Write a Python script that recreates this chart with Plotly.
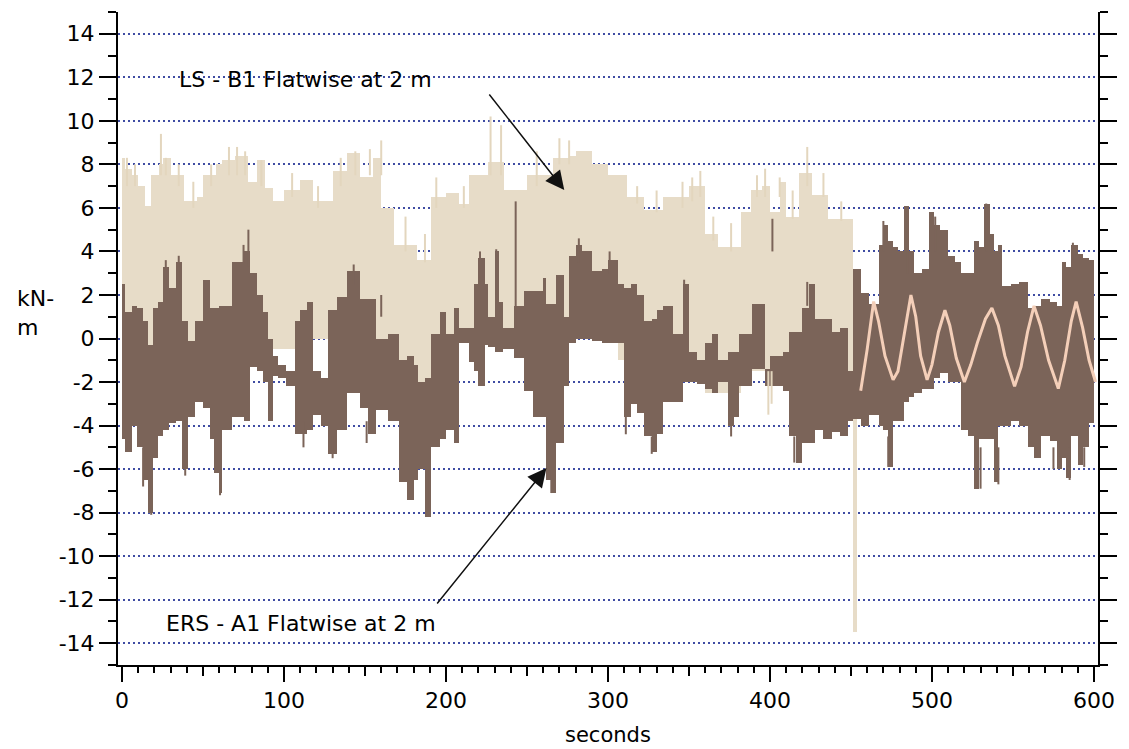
import plotly.graph_objects as go

# ---------------- data ----------------
# ERS - A1 Flatwise at 2 m  (dark trace): segment start time, upper and lower envelope
ers_start = [0, 2, 6, 9, 13, 16, 19, 22, 25, 29, 33, 37, 41, 45, 50, 54, 57, 60, 62, 68,
             75, 79, 83, 87, 90, 93, 96, 101, 107, 110, 114, 118, 123, 127, 133, 139, 147, 152, 157, 164,
             171, 176, 180, 183, 187, 191, 196, 200, 205, 208, 214, 217, 220, 224, 226, 230, 233, 235, 242, 248,
             254, 260, 262, 265, 268, 273, 276, 280, 284, 290, 296, 300, 306, 310, 314, 318, 322, 327, 330, 334,
             340, 346, 350, 355, 360, 364, 368, 374, 378, 381, 389, 397, 400, 404, 408, 412, 416, 420, 424, 428,
             433, 438, 443, 448, 451, 456, 461, 467, 470, 473, 476, 479, 483, 486, 489, 494, 498, 501, 505, 510,
             514, 518, 522, 526, 529, 532, 536, 538, 541, 543, 549, 554, 559, 563, 567, 573, 577, 580, 583, 586,
             590, 593, 597]
ers_hi = [2.5, 1.2, 1.5, 1.4, 0.8, -0.3, 1.4, 1.7, 3.3, 2.3, 3.5, 0.8, -0.1, 0.8, 2.7, 1.4, 1.4, 1.5, 1.5, 3.5,
          4.0, 3.0, 2.0, 1.2, 0.0, -0.8, -1.2, -1.5, 0.8, 1.3, 1.7, -1.5, -1.8, 1.3, 1.9, 3.1, 1.8, 1.8, 0.0, 0.2,
          -1.0, -0.8, -1.2, -2.0, -1.8, 0.2, 1.2, 0.2, 1.4, 0.5, 0.5, 2.5, 3.7, 2.5, 1.0, 4.0, 1.7, 0.5, 1.5, 2.2,
          2.2, 2.8, 1.6, 1.6, 2.9, 1.0, 3.8, 4.3, 4.0, 3.1, 3.2, 3.6, 2.5, 2.3, 2.5, 2.0, 0.8, 0.9, 1.3, 1.5,
          0.2, 2.5, -0.6, -1.0, -0.2, 0.2, -1.0, -0.6, -0.6, 0.2, 1.6, -1.4, -0.8, -0.8, -0.6, 0.3, 0.3, 1.4, 2.5, 0.9,
          0.9, 0.3, 0.5, -1.5, 3.2, 2.1, 1.6, 4.3, 5.2, 4.5, 4.2, 4.0, 6.1, 4.0, 3.0, 3.2, 5.8, 5.2, 5.0, 3.8,
          3.5, 3.0, 3.0, 4.5, 4.2, 6.2, 4.8, 4.0, 4.3, 2.4, 2.5, 2.6, 1.4, 1.5, 1.8, 1.7, 1.5, 3.5, 3.3, 4.3,
          3.9, 3.7, 3.6]
ers_lo = [-4.6, -5.2, -4.0, -5.0, -6.5, -8.0, -5.5, -4.5, -4.2, -3.9, -3.8, -6.0, -3.6, -2.9, -3.2, -4.6, -6.2, -7.1, -4.2, -3.6,
          -3.8, -1.3, -1.5, -2.0, -3.8, -1.7, -1.8, -2.2, -4.4, -4.4, -4.2, -3.5, -4.0, -5.3, -4.2, -2.5, -3.2, -4.4, -3.3, -3.8,
          -6.6, -7.4, -6.5, -6.0, -8.2, -5.0, -4.6, -4.2, -4.8, -0.2, -1.1, -1.5, -2.2, -0.3, -0.4, -0.6, -0.6, -0.5, -0.9, -2.4,
          -3.6, -3.6, -6.5, -7.1, -4.8, -2.2, -0.2, 0.0, 0.0, -0.1, -0.2, -0.2, -0.2, -3.6, -3.0, -3.4, -4.5, -5.2, -4.4, -2.9,
          -2.9, -2.0, -2.0, -2.1, -2.3, -2.5, -2.0, -4.0, -3.6, -2.2, -1.4, -2.2, -2.2, -2.2, -2.4, -4.5, -5.7, -4.8, -4.8, -4.2,
          -4.6, -4.3, -4.5, -3.8, -3.7, -4.0, -3.5, -4.0, -4.2, -5.9, -3.8, -3.8, -2.9, -2.7, -2.5, -2.3, -2.3, -1.8, -1.6, -2.0,
          -2.0, -4.2, -4.5, -6.9, -4.6, -4.6, -4.6, -6.6, -4.0, -4.0, -3.8, -4.0, -5.0, -5.5, -4.5, -4.7, -6.0, -5.5, -6.4, -4.5,
          -5.8, -5.0, -3.9]
ers_end = 600

# thin excursions of the dark trace: time, from, to
ers_spike_t = [27, 35, 75, 78, 143, 160, 221, 231, 243, 282, 301, 347, 401.5, 423, 470, 485, 502, 533.5, 587,
               18, 60.5, 190, 265, 415, 473, 530, 541, 575, 585, 594, 13, 39, 112, 130, 151, 311, 327, 376]
ers_spike_a = [2.5, 2.5, 3.5, 3.3, 2.5, 1.0, 2.8, 2.0, 0.5, 3.5, 3.0, 1.8, 4.0, 1.5, 4.0, 3.0, 4.0, 4.0, 3.5,
               -6.0, -6.0, -6.0, -6.0, -4.5, -4.5, -5.0, -5.0, -5.0, -5.0, -5.0, -5.0, -5.0, -3.8, -4.5, -3.8, -3.0, -4.5, -3.5]
ers_spike_b = [3.6, 3.8, 4.3, 5.0, 3.4, 2.0, 4.0, 4.1, 6.3, 4.6, 4.0, 2.7, 5.5, 2.6, 5.4, 6.0, 5.6, 6.2, 4.4,
               -8.1, -7.2, -8.2, -7.1, -5.7, -5.9, -6.9, -6.7, -6.0, -6.5, -5.9, -6.8, -6.3, -5.0, -5.5, -4.8, -4.4, -5.3, -4.5]

# LS - B1 Flatwise at 2 m  (light trace)
ls_start = [0, 2, 6, 10, 14, 18, 23, 25, 30, 38, 46, 50, 58, 62, 70, 78, 83, 88, 93, 100,
            110, 118, 130, 139, 147, 155, 160, 168, 182, 191, 200, 208, 214, 226, 236, 250, 266, 276, 280, 290,
            300, 306, 312, 322, 334, 350, 360, 368, 382, 388, 395, 400, 404, 406, 410, 418, 426, 436, 440, 451]
ls_hi = [8.3, 7.8, 7.5, 7.0, 6.1, 7.5, 8.0, 8.3, 7.5, 6.3, 6.5, 7.5, 8.0, 8.2, 8.4, 7.2, 8.2, 6.9, 6.3, 6.8,
         7.3, 6.3, 7.7, 8.5, 7.4, 8.3, 6.0, 4.3, 3.6, 6.5, 6.7, 6.2, 7.5, 8.1, 6.8, 7.5, 8.3, 8.4, 8.6, 8.0,
         7.5, 7.5, 6.5, 5.9, 6.5, 7.0, 4.8, 4.2, 5.8, 6.8, 7.0, 5.8, 5.8, 7.2, 5.6, 7.6, 6.6, 5.5, 5.5, 2.0]
ls_lo = [-1.0, -1.0, -1.0, -1.0, -1.0, -1.0, -1.0, -1.0, -1.0, -1.0, -1.0, -1.0, -1.0, -1.0, -1.0, -0.5, -0.3, -0.3, -0.5, -0.5,
         -0.5, 0.0, -1.0, -0.5, -1.0, -1.0, -1.0, -2.2, -2.2, -2.0, -1.0, 0.4, 0.4, 0.4, -0.5, -0.5, -0.5, 0.3, 0.3, 0.3,
         0.3, -1.0, -1.0, -1.0, -1.0, -1.8, -2.5, -2.5, -1.5, -1.5, -1.5, -1.5, -1.0, -1.0, -1.0, -1.0, -1.0, -1.0, -2.8, -13.5]
ls_end = 454

ls_spike_t = [3, 8, 24, 27, 35, 44, 55, 66, 71, 76, 86, 105, 121, 135, 144, 153, 160, 175, 187, 194,
              211, 227.5, 234, 256, 270, 276, 318, 330, 346, 352, 357, 365, 376, 392, 397, 406, 414, 423, 433, 444]
ls_spike_a = [7.0, 7.0, 7.5, 7.5, 7.0, 6.0, 7.0, 7.5, 7.5, 7.5, 7.0, 6.5, 6.0, 7.0, 7.5, 7.5, 7.5, 4.0, 3.5, 6.0,
              6.0, 7.5, 7.5, 7.0, 8.0, 8.0, 6.2, 5.8, 6.0, 6.3, 6.5, 4.5, 4.0, 6.5, 6.5, 6.5, 5.5, 7.0, 6.5, 5.4]
ls_spike_b = [8.3, 8.0, 9.4, 8.3, 8.0, 7.2, 8.0, 8.8, 8.8, 8.6, 8.2, 7.6, 7.0, 8.3, 8.6, 8.7, 9.1, 5.6, 4.8, 7.4,
              7.0, 10.2, 9.8, 8.6, 9.2, 9.1, 7.0, 6.8, 7.2, 7.4, 7.7, 5.6, 5.3, 7.5, 7.8, 7.4, 6.8, 8.8, 7.6, 6.3]

# thin light strip dipping below at ~400 s: time, from, to
ls_dip_t = [399, 401]
ls_dip_a = [-1.5, -1.5]
ls_dip_b = [-3.5, -3.0]

# light pink oscillation after 455 s
osc_t = [456, 460, 464, 467, 471, 476, 479, 483, 487, 490, 493, 497, 500, 504, 508, 511, 515, 520, 524, 528,
         533, 537, 541, 545, 551, 555, 559, 563, 567, 572, 578, 582, 586, 589, 593, 597, 601]
osc_v = [-2.4, -0.5, 1.7, 0.8, -0.8, -1.9, -1.5, 0.3, 2.0, 1.0, -0.8, -1.9, -1.2, 0.3, 1.3, 0.6, -0.9, -2.0, -1.2, -0.2,
         0.9, 1.4, 0.6, -0.8, -2.2, -1.3, 0.3, 1.5, 0.6, -1.0, -2.3, -1.0, 0.8, 1.7, 0.5, -1.0, -2.0]

y_ticks = list(range(-14, 15, 2))
x_ticks = list(range(0, 601, 100))
x_mid_ticks = list(range(50, 600, 100))
X_RANGE = [-2.5, 602.5]

DARK = '#7b6459'
LIGHT = '#e7dcc8'
PINK = '#f4cfb9'


def envelope_bars(starts, end, hi, lo, color):
    ends = starts[1:] + [end]
    mids = [(a + b) / 2 for a, b in zip(starts, ends)]
    widths = [b - a for a, b in zip(starts, ends)]
    return go.Bar(x=mids, y=[h - l for h, l in zip(hi, lo)], base=lo, width=widths,
                  marker=dict(color=color, line=dict(width=0)), hoverinfo='skip', showlegend=False)


def spikes(ts, a, b, color, w):
    xs, ys = [], []
    for t, p, q in zip(ts, a, b):
        xs += [t, t, None]
        ys += [p, q, None]
    return go.Scatter(x=xs, y=ys, mode='lines', line=dict(color=color, width=w),
                      hoverinfo='skip', showlegend=False)


fig = go.Figure()
fig.add_trace(envelope_bars(ls_start, ls_end, ls_hi, ls_lo, LIGHT))
fig.add_trace(envelope_bars(ers_start, ers_end, ers_hi, ers_lo, DARK))
fig.add_trace(spikes(ls_spike_t, ls_spike_a, ls_spike_b, '#e3d6be', 2))
fig.add_trace(spikes(ls_dip_t, ls_dip_a, ls_dip_b, '#e3d6be', 2))
fig.add_trace(spikes(ers_spike_t, ers_spike_a, ers_spike_b, DARK, 2))
fig.add_trace(go.Scatter(x=osc_t, y=osc_v, mode='lines', line=dict(color=PINK, width=3),
                         xaxis='x2', yaxis='y', hoverinfo='skip', showlegend=False))

FONT = 'DejaVu Sans, Liberation Sans, Arial, sans-serif'
fig.update_layout(
    width=1129, height=749,
    margin=dict(l=118, r=18, t=12, b=84),
    plot_bgcolor='white', paper_bgcolor='white',
    barmode='overlay', bargap=0, showlegend=False,
    font=dict(family=FONT, size=22, color='black'),
    xaxis=dict(
        range=X_RANGE, tickvals=x_ticks, ticktext=[str(v) for v in x_ticks],
        ticks='outside', ticklen=15, tickwidth=2, tickcolor='black',
        showline=True, linewidth=2, linecolor='black', showgrid=False, zeroline=False,
        tickfont=dict(size=22),
        minor=dict(dtick=10, tick0=0, ticks='outside', ticklen=6, tickwidth=2, tickcolor='black', showgrid=False),
    ),
    xaxis2=dict(
        overlaying='x', anchor='y', side='bottom', range=X_RANGE,
        tickvals=x_mid_ticks, ticks='outside', ticklen=10, tickwidth=2, tickcolor='black',
        showticklabels=False, showline=False, showgrid=False, zeroline=False,
    ),
    yaxis=dict(
        range=[-15, 15], tickvals=y_ticks, ticktext=[str(v) for v in y_ticks],
        ticks='outside', ticklen=17, tickwidth=2, tickcolor='black',
        showline=True, linewidth=2, linecolor='black', mirror='ticks',
        showgrid=True, gridcolor='#3f4ca3', gridwidth=1.5, griddash='2px,3px', zeroline=False,
        tickfont=dict(size=22),
        minor=dict(dtick=1, tick0=1, ticks='outside', ticklen=8, tickwidth=2, tickcolor='black', showgrid=False),
    ),
)

fig.add_annotation(text='LS - B1 Flatwise at 2 m', x=34.1, y=11.9, xref='x', yref='y',
                   xanchor='left', yanchor='middle', showarrow=False, font=dict(size=22))
fig.add_annotation(text='ERS - A1 Flatwise at 2 m', x=26.1, y=-13.1, xref='x', yref='y',
                   xanchor='left', yanchor='middle', showarrow=False, font=dict(size=22))
fig.add_annotation(text='', x=273, y=6.82, ax=226, ay=11.28, xref='x', yref='y', axref='x', ayref='y',
                   showarrow=True, arrowhead=2, arrowsize=2.5, arrowwidth=1.5, arrowcolor='#111111')
fig.add_annotation(text='', x=262, y=-5.95, ax=193.8, ay=-12.24, xref='x', yref='y', axref='x', ayref='y',
                   showarrow=True, arrowhead=2, arrowsize=2.5, arrowwidth=1.5, arrowcolor='#111111')
fig.add_annotation(text='kN-<br>m', x=-0.1047, y=0.539, xref='paper', yref='paper',
                   xanchor='left', yanchor='middle', align='left', showarrow=False, font=dict(size=22))
fig.add_annotation(text='seconds', x=300, y=-0.1072, xref='x', yref='paper',
                   xanchor='center', yanchor='middle', showarrow=False, font=dict(size=21))

fig.write_html('out.html')
